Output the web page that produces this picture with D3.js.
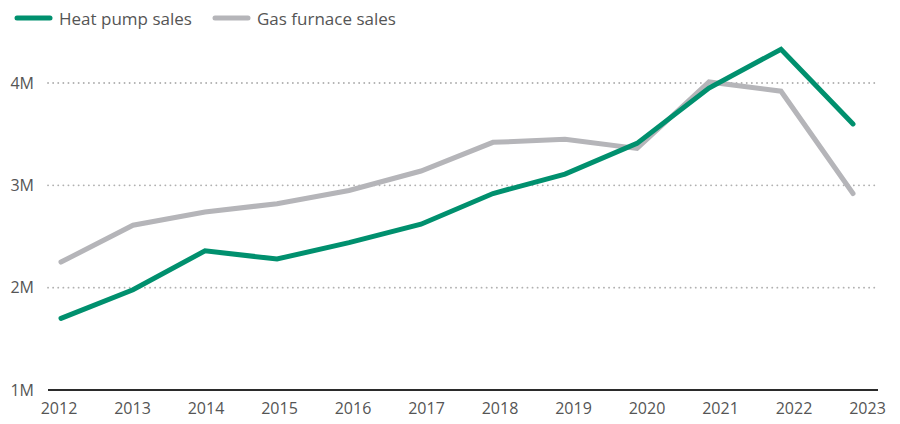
<!DOCTYPE html>
<html>
<head>
<meta charset="utf-8">
<script src="https://cdn.jsdelivr.net/npm/d3@7"></script>
<style>
  body { margin: 0; background: #fff; }
  text { font-family: "Open Sans", sans-serif; }
</style>
</head>
<body>
<div id="chart"></div>
<script>
// data, in millions of units
var years = [2012, 2013, 2014, 2015, 2016, 2017, 2018, 2019, 2020, 2021, 2022, 2023];
var heatPump = [1.70, 1.98, 2.36, 2.28, 2.44, 2.62, 2.92, 3.11, 3.41, 3.95, 4.33, 3.60];
var gasFurnace = [2.25, 2.61, 2.74, 2.82, 2.95, 3.14, 3.42, 3.45, 3.36, 4.01, 3.92, 2.92];
var yTicks = [1, 2, 3, 4];
var seriesNames = ["Heat pump sales", "Gas furnace sales"];
var seriesColors = ["#00906e", "#b5b5b9"];

var width = 900, height = 424;

var svg = d3.select("#chart")
  .append("svg")
    .attr("width", width)
    .attr("height", height);

// scales
var x = d3.scalePoint()
  .domain(years)
  .range([61, 853]);

// tick labels sit on a slightly wider spread than the points
var xLabel = d3.scalePoint()
  .domain(years)
  .range([58.5, 867]);

var y = d3.scaleLinear()
  .domain([1, 4])
  .range([390, 83]);

// dotted gridlines
svg.append("g")
  .selectAll("line")
  .data(yTicks.filter(function(d) { return d > 1; }))
  .enter()
  .append("line")
    .attr("x1", 48)
    .attr("x2", 878)
    .attr("y1", function(d) { return y(d); })
    .attr("y2", function(d) { return y(d); })
    .attr("stroke", "#b0b0b0")
    .attr("stroke-width", 1.8)
    .attr("stroke-linecap", "round")
    .attr("stroke-dasharray", "0.1,5");

// y labels
svg.append("g")
  .selectAll("text")
  .data(yTicks)
  .enter()
  .append("text")
    .attr("x", 34)
    .attr("y", function(d) { return y(d); })
    .attr("dy", "0.35em")
    .attr("text-anchor", "end")
    .style("font-size", "16px")
    .style("fill", "#555")
    .text(function(d) { return d + "M"; });

// x axis baseline
svg.append("line")
  .attr("x1", 48)
  .attr("x2", 878)
  .attr("y1", y(1))
  .attr("y2", y(1))
  .attr("stroke", "#2b2b2b")
  .attr("stroke-width", 2);

// x labels
var xAxis = svg.append("g")
  .attr("transform", "translate(0," + 403 + ")")
  .call(d3.axisBottom(xLabel).tickSize(0).tickPadding(0).tickFormat(d3.format("d")));
xAxis.select(".domain").remove();
xAxis.selectAll("text")
  .style("font-size", "16px")
  .style("font-family", "'Open Sans', sans-serif")
  .style("fill", "#555");

// lines
var line = d3.line()
  .x(function(d, i) { return x(years[i]); })
  .y(function(d) { return y(d); });

[gasFurnace, heatPump].forEach(function(series, k) {
  svg.append("path")
    .datum(series)
    .attr("fill", "none")
    .attr("stroke", k == 0 ? seriesColors[1] : seriesColors[0])
    .attr("stroke-width", 5)
    .attr("stroke-linejoin", "miter")
    .attr("stroke-linecap", "round")
    .attr("d", line);
});

// legend
var legendX = [15, 213];
var legend = svg.append("g")
  .selectAll("g")
  .data(seriesNames)
  .enter()
  .append("g")
    .attr("transform", function(d, i) { return "translate(" + legendX[i] + ",19)"; });

legend.append("line")
  .attr("x1", 2)
  .attr("x2", 35)
  .attr("y1", -1)
  .attr("y2", -1)
  .attr("stroke", function(d, i) { return seriesColors[i]; })
  .attr("stroke-width", 5)
  .attr("stroke-linecap", "round");

legend.append("text")
  .attr("x", 44)
  .attr("dy", "0.35em")
  .style("font-size", "17px")
  .style("fill", "#555")
  .text(function(d) { return d; });
</script>
</body>
</html>
